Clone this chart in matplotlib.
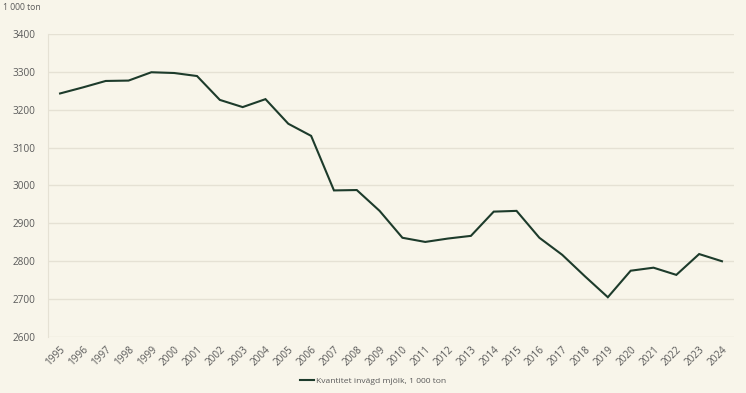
import matplotlib
matplotlib.use("Agg")
import matplotlib.pyplot as plt
from matplotlib.lines import Line2D

years = list(range(1995, 2025))
values = [3243, 3259, 3276, 3277, 3299, 3297, 3289, 3226, 3207, 3228,
          3163, 3131, 2987, 2988, 2933, 2862, 2851, 2860, 2867, 2931,
          2933, 2862, 2817, 2760, 2705, 2775, 2783, 2764, 2819, 2800]
yticks = [2600, 2700, 2800, 2900, 3000, 3100, 3200, 3300, 3400]
unit_label = "1 000 ton"
series_label = "Kvantitet invägd mjölk, 1 000 ton"

bg = "#f8f5ea"
line_color = "#1d3b2b"
grid_color = "#e5e1d4"
text_color = "#5a5a5a"

plt.rcParams['font.family'] = ['Open Sans', 'DejaVu Sans']

fig = plt.figure(figsize=(7.46, 3.93), dpi=100, facecolor=bg)
ax = fig.add_axes([0.0643, 0.1425, 0.9197, 0.771])
ax.set_facecolor(bg)

ax.plot(years, values, color=line_color, linewidth=1.5, solid_joinstyle='miter')

ax.set_xlim(1994.47, 2024.53)
ax.set_ylim(2600, 3400)
ax.set_yticks(yticks)
ax.set_yticklabels([str(v) for v in yticks])
ax.set_xticks(years)
ax.set_xticklabels([str(y) for y in years], rotation=45, ha='right', rotation_mode='anchor')

ax.grid(axis='y', color=grid_color, linewidth=1)
ax.set_axisbelow(True)
for s in ['top', 'right', 'bottom']:
    ax.spines[s].set_visible(False)
ax.spines['left'].set_color(grid_color)
ax.tick_params(axis='both', length=0, colors=text_color, labelsize=7.2)
ax.tick_params(axis='y', pad=9)
ax.tick_params(axis='x', pad=5)

fig.text(3/746, 1 - 8/393, unit_label, fontsize=6.2, color=text_color, va='center', ha='left')

handle = Line2D([0], [0], color=line_color, linewidth=1.5)
fig.legend([handle], [series_label], loc='center', bbox_to_anchor=(0.5, 1 - 381/393),
           frameon=False, fontsize=6.1, labelcolor=text_color, handlelength=1.6,
           handletextpad=0.2)

fig.savefig("out.png", dpi=100, facecolor=bg)
